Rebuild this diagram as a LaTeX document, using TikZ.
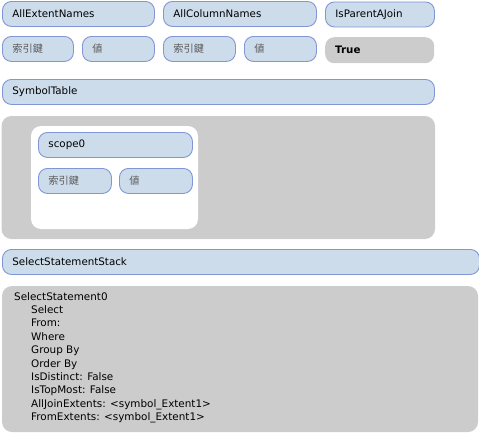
\documentclass[tikz,border=0pt]{standalone}
\usepackage{fontspec}
\setmainfont{DejaVu Sans}
\newfontfamily\cjk{Noto Sans CJK TC}
\definecolor{boxfill}{HTML}{CDDCEB}
\definecolor{boxline}{HTML}{8096D6}
\definecolor{panel}{HTML}{CCCCCC}
\definecolor{cjkgray}{HTML}{5A5A5A}
\begin{document}
\begin{tikzpicture}[x=1pt,y=-1pt,
  box/.style={draw=boxline, fill=boxfill, line width=0.9pt, rounded corners=9pt,
    inner xsep=10pt, inner ysep=0pt, minimum height=25pt, anchor=north west,
    align=left, font=\fontsize{10.3}{12}\selectfont},
  cjkbox/.style={box, font=\cjk\fontsize{10.2}{12}\selectfont, text=cjkgray},
  panelbox/.style={fill=panel, rounded corners=10pt},
  whitebox/.style={fill=white, rounded corners=10pt},
  truebox/.style={fill=panel, rounded corners=9pt, inner xsep=10pt, inner ysep=0pt,
    minimum height=26pt, anchor=north west, align=left,
    font=\bfseries\fontsize{10.3}{12}\selectfont},
  listtext/.style={anchor=north west, inner sep=0pt, align=left,
    font=\fontsize{10.4}{13.4}\selectfont}]
\useasboundingbox (0,0) rectangle (479,439);
% top row
\node[box, text width=132pt] (aen) at (2,1) {AllExtentNames};
\node[box, text width=133pt] (acn) at (163,1) {AllColumnNames};
\node[box, text width=89pt] (ipj) at (325,1.5) {IsParentAJoin};
% second row
\node[cjkbox, text width=51pt] (k1) at (2,36) {索引鍵};
\node[cjkbox, text width=52pt] (v1) at (82,36) {値};
\node[cjkbox, text width=52pt] (k2) at (163,36) {索引鍵};
\node[cjkbox, text width=52pt] (v2) at (244,36) {値};
\node[truebox, text width=89pt] (tru) at (325,37) {True};
% symbol table
\node[box, text width=412pt] (st) at (2,79) {SymbolTable};
\path[panelbox] (1.5,116) rectangle (435,239);
\path[whitebox] (31,126) rectangle (198,229);
\node[box, text width=134pt] (sc) at (38,132) {scope0};
\node[cjkbox, text width=53pt] (k3) at (38,168) {索引鍵};
\node[cjkbox, text width=53pt] (v3) at (119,168) {値};
% select statement stack
\node[box, text width=457pt] (sss) at (2,249) {SelectStatementStack};
\path[panelbox] (2,286) rectangle (478,432);
\node[listtext] (ss0) at (14,292) {SelectStatement0\\
\hspace*{17pt}Select\\
\hspace*{17pt}From:\\
\hspace*{17pt}Where\\
\hspace*{17pt}Group By\\
\hspace*{17pt}Order By\\
\hspace*{17pt}IsDistinct: False\\
\hspace*{17pt}IsTopMost: False\\
\hspace*{17pt}AllJoinExtents: <symbol\_Extent1>\\
\hspace*{17pt}FromExtents: <symbol\_Extent1>};
\end{tikzpicture}
\end{document}
